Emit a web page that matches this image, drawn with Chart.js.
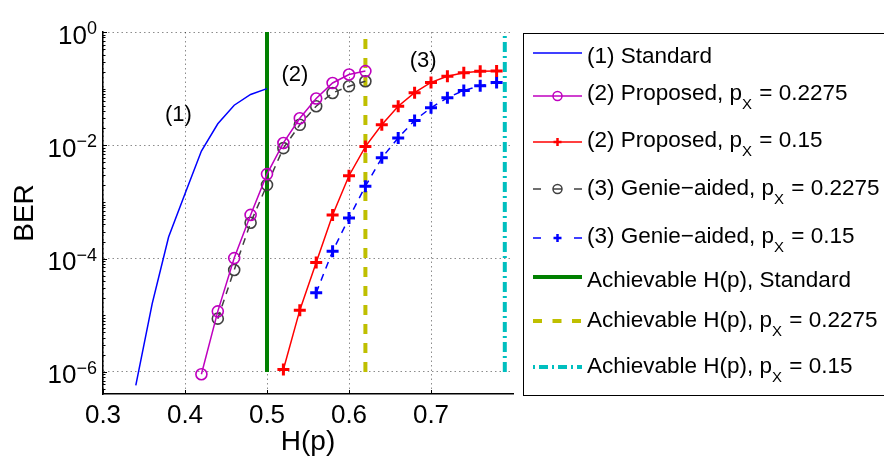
<!DOCTYPE html>
<html><head><meta charset="utf-8">
<script src="https://cdn.jsdelivr.net/npm/chart.js@4/dist/chart.umd.min.js"></script>
<style>html,body{margin:0;padding:0;background:#fff;}#wrap{width:884px;height:459px;position:relative;}</style>
</head><body><div id="wrap"><canvas id="c" width="884" height="459"></canvas></div>
<script>
// ---------- data ----------
const xTicks = [0.3, 0.4, 0.5, 0.6, 0.7];
const yTicks = [1e-6, 1e-4, 1e-2, 1];

const stdH   = [0.34, 0.36, 0.38, 0.40, 0.42, 0.44, 0.46, 0.48, 0.50];
const stdBER = [5.8e-7, 1.6e-5, 2.4e-4, 1.4e-3, 7.9e-3, 2.4e-2, 5.1e-2, 7.9e-2, 1.0e-1];

const prop2275H   = [0.42, 0.44, 0.46, 0.48, 0.50, 0.52, 0.54, 0.56, 0.58, 0.60, 0.62];
const prop2275BER = [9.1e-7, 1.17e-5, 1.02e-4, 5.9e-4, 3.1e-3, 1.1e-2, 3.0e-2, 6.7e-2, 0.126, 0.178, 0.204];

const prop15H   = [0.52, 0.54, 0.56, 0.58, 0.60, 0.62, 0.64, 0.66, 0.68, 0.70, 0.72, 0.74, 0.76, 0.78];
const prop15BER = [1.1e-6, 1.23e-5, 8.5e-5, 5.9e-4, 2.9e-3, 9.5e-3, 2.3e-2, 4.9e-2, 8.5e-2, 0.129, 0.166, 0.19, 0.203, 0.205];

const genie2275H   = [0.44, 0.46, 0.48, 0.50, 0.52, 0.54, 0.56, 0.58, 0.60, 0.62];
const genie2275BER = [8.7e-6, 6.3e-5, 4.3e-4, 2.0e-3, 8.9e-3, 2.3e-2, 4.9e-2, 8.4e-2, 0.11, 0.135];

const genie15H   = [0.56, 0.58, 0.60, 0.62, 0.64, 0.66, 0.68, 0.70, 0.72, 0.74, 0.76, 0.78];
const genie15BER = [2.5e-5, 1.35e-4, 5.2e-4, 1.9e-3, 6.0e-3, 1.35e-2, 2.75e-2, 4.6e-2, 6.9e-2, 9.3e-2, 0.112, 0.129];

const achStdH  = 0.50;
const ach2275H = 0.62;
const ach15H   = 0.79;
const achSpan  = [1e-6, 1];

const annoText = ['(1)', '(2)', '(3)'];
const annoH    = [0.392, 0.534, 0.6905];
const annoBER  = [0.035, 0.172, 0.304];

// ---------- helpers ----------
const FONT = '"Liberation Sans", Arial, sans-serif';
Chart.defaults.font.family = FONT;
Chart.defaults.color = '#000';
const pts = (xs, ys) => xs.map((x, i) => ({x: x, y: ys[i]}));
const vline = (x) => achSpan.map(y => ({x: x, y: y}));

const C = {
  blue: '#0000ff', mag: '#bf00bf', red: '#ff0000', gray: '#404040',
  green: '#008000', yellow: '#bfbf00', cyan: '#00bfbf'
};

const datasets = [
  {label: 'std', data: pts(stdH, stdBER), borderColor: C.blue, borderWidth: 1.5, pointRadius: 0},
  {label: 'p2275', data: pts(prop2275H, prop2275BER), borderColor: C.mag, borderWidth: 1.5,
    pointStyle: 'circle', pointRadius: 5.5, pointBorderColor: C.mag, pointBackgroundColor: 'rgba(0,0,0,0)', pointBorderWidth: 1.6},
  {label: 'p15', data: pts(prop15H, prop15BER), borderColor: C.red, borderWidth: 1.5,
    pointStyle: 'cross', pointRadius: 6, pointBorderColor: C.red, pointBorderWidth: 3},
  {label: 'g2275', data: pts(genie2275H, genie2275BER), borderColor: C.gray, borderWidth: 1.5, borderDash: [7, 6],
    pointStyle: 'circle', pointRadius: 5.5, pointBorderColor: C.gray, pointBackgroundColor: 'rgba(0,0,0,0)', pointBorderWidth: 1.6},
  {label: 'g15', data: pts(genie15H, genie15BER), borderColor: C.blue, borderWidth: 1.5, borderDash: [7, 6],
    pointStyle: 'cross', pointRadius: 6, pointBorderColor: C.blue, pointBorderWidth: 3},
  {label: 'aStd', data: vline(achStdH), borderColor: C.green, borderWidth: 4, pointRadius: 0, order: 10},
  {label: 'a2275', data: vline(ach2275H), borderColor: C.yellow, borderWidth: 4, borderDash: [10, 9], pointRadius: 0, order: 10},
  {label: 'a15', data: vline(ach15H), borderColor: C.cyan, borderWidth: 4, borderDash: [10, 4, 2, 4], pointRadius: 0, order: 10}
];
datasets.forEach(d => { d.fill = false; d.tension = 0; d.borderCapStyle = 'butt'; if (d.order === undefined) d.order = 0; d.pointHoverRadius = d.pointRadius; });

function drawMarker(ctx, kind, x, y, color) {
  ctx.save();
  ctx.strokeStyle = color;
  ctx.setLineDash([]);
  if (kind === 'circle' || kind === 'circleDash') {
    ctx.lineWidth = 1.5;
    ctx.beginPath(); ctx.arc(x, y, 4.5, 0, Math.PI * 2); ctx.stroke();
    if (kind === 'circleDash') { ctx.beginPath(); ctx.moveTo(x - 4.5, y); ctx.lineTo(x + 4.5, y); ctx.stroke(); }
  } else if (kind === 'cross') {
    ctx.lineWidth = 2.5;
    ctx.beginPath(); ctx.moveTo(x - 4, y); ctx.lineTo(x + 4, y); ctx.moveTo(x, y - 4); ctx.lineTo(x, y + 4); ctx.stroke();
  }
  ctx.restore();
}

const legendRows = [
  {color: C.blue,   width: 1.5, dash: [],            marker: null,         parts: ['(1) Standard'], base: 63, ly: 53},
  {color: C.mag,    width: 1.5, dash: [],            marker: 'circle',     parts: ['(2) Proposed, p', 'X', ' = 0.2275'], base: 100, ly: 96},
  {color: C.red,    width: 1.5, dash: [],            marker: 'cross',      parts: ['(2) Proposed, p', 'X', ' = 0.15'], base: 147, ly: 142},
  {color: C.gray,   width: 1.5, dash: [8, 33],       marker: 'circleDash', parts: ['(3) Genie\u2212aided, p', 'X', ' = 0.2275'], base: 195, ly: 189},
  {color: C.blue,   width: 1.5, dash: [8, 33],       marker: 'cross',      parts: ['(3) Genie\u2212aided, p', 'X', ' = 0.15'], base: 243, ly: 238},
  {color: C.green,  width: 4,   dash: [],            marker: null,         parts: ['Achievable H(p), Standard'], base: 287, ly: 277},
  {color: C.yellow, width: 4,   dash: [9, 10.5],     marker: null,         parts: ['Achievable H(p), p', 'X', ' = 0.2275'], base: 327, ly: 321},
  {color: C.cyan,   width: 4,   dash: [2, 4, 9, 4],  marker: null,         parts: ['Achievable H(p), p', 'X', ' = 0.15'], base: 373, ly: 367}
];

const overlay = {
  id: 'overlay',
  afterDraw(chart) {
    const ctx = chart.ctx, xs = chart.scales.x, ys = chart.scales.y, a = chart.chartArea;
    ctx.save();
    // inward tick marks
    ctx.strokeStyle = '#000'; ctx.lineWidth = 1; ctx.setLineDash([]);
    xTicks.forEach(v => { const px = Math.round(xs.getPixelForValue(v)) + 0.5; ctx.beginPath(); ctx.moveTo(px, a.bottom); ctx.lineTo(px, a.bottom - 4); ctx.stroke(); });
    const lo = Math.floor(Math.log10(ys.min)), hi = Math.ceil(Math.log10(ys.max));
    for (let e = lo; e <= hi; e++) {
      for (let m = 1; m <= 9; m++) {
        const v = m * Math.pow(10, e);
        if (v < ys.min || v > ys.max) continue;
        const py = Math.round(ys.getPixelForValue(v)) + 0.5;
        const len = yTicks.includes(v) ? 4 : 2.5;
        ctx.beginPath(); ctx.moveTo(a.left, py); ctx.lineTo(a.left + len, py); ctx.stroke();
      }
    }
    // y tick labels with superscripts
    ctx.fillStyle = '#000'; ctx.textAlign = 'left'; ctx.textBaseline = 'alphabetic';
    yTicks.forEach(v => {
      const py = ys.getPixelForValue(v);
      const e = Math.round(Math.log10(v));
      const expStr = (e < 0 ? '\u2212' : '') + Math.abs(e);
      ctx.font = '18px ' + FONT; const we = ctx.measureText(expStr).width;
      ctx.font = '26px ' + FONT; const wb = ctx.measureText('10').width;
      const right = a.left - 6;
      ctx.fillText('10', right - we - wb, py + 11.5);
      ctx.font = '18px ' + FONT;
      ctx.fillText(expStr, right - we, py + 2);
    });
    // annotations
    ctx.font = '22px ' + FONT; ctx.textAlign = 'center'; ctx.textBaseline = 'middle';
    annoText.forEach((t, i) => ctx.fillText(t, xs.getPixelForValue(annoH[i]), ys.getPixelForValue(annoBER[i])));
    // legend box
    const L = 523.5, T = 33.5, R = 890, B = 395.5;
    ctx.fillStyle = '#fff'; ctx.fillRect(L, T, R - L, B - T);
    ctx.strokeStyle = '#000'; ctx.lineWidth = 1; ctx.strokeRect(L, T, R - L, B - T);
    const x0 = 533, x1 = 582, tx = 587;
    legendRows.forEach(r => {
      ctx.save();
      ctx.strokeStyle = r.color; ctx.lineWidth = r.width; ctx.setLineDash(r.dash); ctx.lineCap = 'butt';
      ctx.beginPath(); ctx.moveTo(x0, r.ly); ctx.lineTo(x1, r.ly); ctx.stroke();
      ctx.restore();
      if (r.marker) drawMarker(ctx, r.marker, (x0 + x1) / 2, r.ly, r.color);
      ctx.fillStyle = '#000'; ctx.textAlign = 'left'; ctx.textBaseline = 'alphabetic';
      let cx = tx;
      r.parts.forEach((p, k) => {
        const sub = (k === 1);
        ctx.font = (sub ? '15px ' : '22.5px ') + FONT;
        ctx.fillText(p, cx, r.base + (sub ? 9 : 0));
        cx += ctx.measureText(p).width + (sub ? 1 : 0);
      });
    });
    ctx.restore();
  }
};

new Chart(document.getElementById('c'), {
  type: 'line',
  data: {datasets: datasets},
  options: {
    responsive: false, animation: false, events: [],
    layout: {padding: {top: 32, right: 371, left: 0, bottom: 0}},
    plugins: {legend: {display: false}, tooltip: {enabled: false}},
    scales: {
      x: {
        type: 'linear', min: 0.3, max: 0.8,
        afterBuildTicks: s => { s.ticks = xTicks.map(v => ({value: v})); },
        afterFit: s => { s.height = 65; },
        ticks: {font: {size: 26}, color: '#000', padding: 6, maxRotation: 0, autoSkip: false, callback: v => Number(v).toFixed(1)},
        grid: {drawTicks: false, color: 'rgba(0,0,0,0.45)', lineWidth: 1},
        border: {display: true, color: '#000', width: 1.5, dash: [1.5, 3]},
        title: {display: true, text: 'H(p)', font: {size: 28}, color: '#000', padding: {top: 0, bottom: 0}}
      },
      y: {
        type: 'logarithmic', min: 4.07e-7, max: 1,
        afterBuildTicks: s => { s.ticks = yTicks.map(v => ({value: v})); },
        afterFit: s => { s.width = 103; },
        ticks: {display: false},
        grid: {drawTicks: false, color: 'rgba(0,0,0,0.45)', lineWidth: 1},
        border: {display: true, color: '#000', width: 1.5, dash: [1.5, 3]},
        title: {display: true, text: 'BER', font: {size: 28}, color: '#000', padding: {top: 8, bottom: 0}}
      }
    }
  },
  plugins: [overlay]
});
</script></body></html>
